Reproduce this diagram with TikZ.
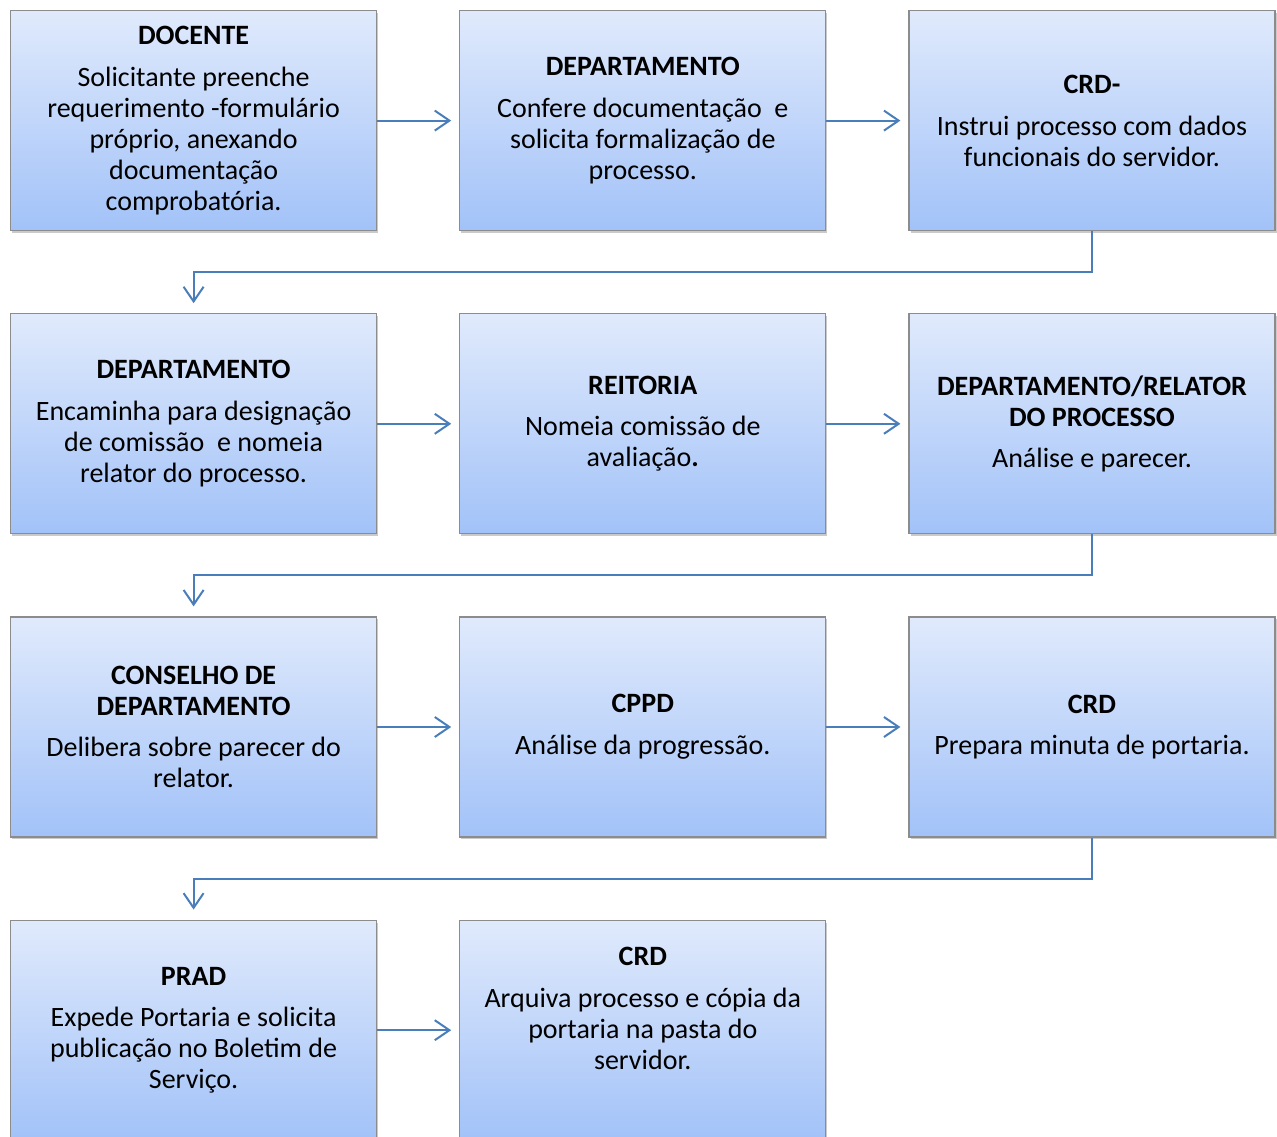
\documentclass[tikz,border=0pt]{standalone}
\usepackage{fontspec}
\setmainfont{Carlito}
\usetikzlibrary{arrows.meta,positioning,calc,shadows}
\definecolor{boxTop}{RGB}{224,234,252}
\definecolor{boxBottom}{RGB}{162,194,248}
\definecolor{boxLine}{RGB}{140,140,140}
\definecolor{flowBlue}{RGB}{74,126,187}

\begin{document}
\begin{tikzpicture}[
    node distance=61.5pt and 61.5pt,
    stepbox/.style={draw=boxLine,line width=0.9pt,top color=boxTop,bottom color=boxBottom,
      minimum width=274.5pt,minimum height=165pt,align=center,
      font=\fontsize{21pt}{23.25pt}\selectfont,
      drop shadow={shadow xshift=1.2pt,shadow yshift=-1.8pt,opacity=0.35,fill=black!60}},
    arrow/.style={-{Straight Barb[length=11pt,width=15pt]},line width=1.5pt,draw=flowBlue,shorten >=6pt},
    elbow/.style={arrow,shorten >=7.5pt}
  ]
    % linha 1
    \node[stepbox] (docente) {\textbf{DOCENTE}\\[8pt]Solicitante preenche\\requerimento -formulário\\próprio, anexando\\documentação\\comprobatória.};
    \node[stepbox,right=of docente] (depConfere) {\textbf{DEPARTAMENTO}\\[8pt]Confere documentação\ \ e\\solicita formalização de\\processo.};
    \node[stepbox,right=of depConfere] (crdInstrui) {\textbf{CRD-}\\[8pt]Instrui processo com dados\\funcionais do servidor.};
    % linha 2
    \node[stepbox,below=of docente] (depEncaminha) {\textbf{DEPARTAMENTO}\\[8pt]Encaminha para designação\\de comissão\ \ e nomeia\\relator do processo.};
    \node[stepbox,right=of depEncaminha] (reitoria) {\textbf{REITORIA}\\[8pt]Nomeia comissão de\\avaliação\textbf{.}};
    \node[stepbox,right=of reitoria] (relator) {\textbf{DEPARTAMENTO/RELATOR}\\\textbf{DO PROCESSO}\\[8pt]Análise e parecer.};
    % linha 3
    \node[stepbox,below=of depEncaminha] (conselho) {\textbf{CONSELHO DE}\\\textbf{DEPARTAMENTO}\\[8pt]Delibera sobre parecer do\\relator.};
    \node[stepbox,right=of conselho] (cppd) {\textbf{CPPD}\\[8pt]Análise da progressão.};
    \node[stepbox,right=of cppd] (crdMinuta) {\textbf{CRD}\\[8pt]Prepara minuta de portaria.};
    % linha 4
    \node[stepbox,below=of conselho] (prad) {\textbf{PRAD}\\[8pt]Expede Portaria e solicita\\publicação no Boletim de\\Serviço.};
    \node[stepbox,right=of prad] (crdArquiva) {\textbf{CRD}\\[8pt]Arquiva processo e cópia da\\portaria na pasta do\\servidor.\\[10pt]\mbox{}};

    \draw[arrow] (docente) -- (depConfere);
    \draw[arrow] (depConfere) -- (crdInstrui);
    \draw[elbow] (crdInstrui.south) -- ++(0,-30.75pt) -| (depEncaminha.north);
    \draw[arrow] (depEncaminha) -- (reitoria);
    \draw[arrow] (reitoria) -- (relator);
    \draw[elbow] (relator.south) -- ++(0,-30.75pt) -| (conselho.north);
    \draw[arrow] (conselho) -- (cppd);
    \draw[arrow] (cppd) -- (crdMinuta);
    \draw[elbow] (crdMinuta.south) -- ++(0,-30.75pt) -| (prad.north);
    \draw[arrow] (prad) -- (crdArquiva);

    \pgfresetboundingbox
    \useasboundingbox ([xshift=-7.5pt,yshift=7.5pt]docente.north west) rectangle ++(957.75pt,-852.75pt);
\end{tikzpicture}
\end{document}
